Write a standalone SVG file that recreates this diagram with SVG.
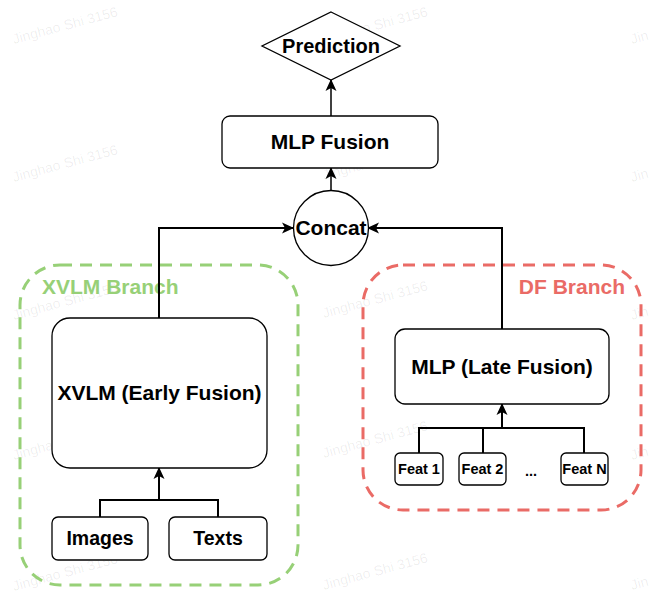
<svg xmlns="http://www.w3.org/2000/svg" width="655" height="594" viewBox="0 0 655 594">
<style>
.bg{fill:#ffffff}
.box{fill:#ffffff;stroke:#000000;stroke-width:1.3}
.lbl{font-family:"Liberation Sans",Arial,Helvetica,sans-serif;font-weight:bold;fill:#000000;text-anchor:middle}
.edge{fill:none;stroke:#000000;stroke-width:2}
.wm{font-family:"Liberation Sans",Arial,sans-serif;font-size:14px;fill:#000000;fill-opacity:0.07}
.grp-g{fill:none;stroke:#97D077;stroke-width:3;stroke-dasharray:12 8}
.grp-r{fill:none;stroke:#EA6B66;stroke-width:3;stroke-dasharray:12 8}
</style>
<defs>
<marker id="arr" markerUnits="userSpaceOnUse" markerWidth="12" markerHeight="12" viewBox="0 0 12 12" refX="11" refY="6" orient="auto">
<path d="M0,0.5 L12,6 L0,11.5 L3,6 z" fill="#000000"/>
</marker>
</defs>
<rect class="bg" x="0" y="0" width="655" height="594"/>

<g id="watermarks">
<text class="wm" transform="translate(14,44) rotate(-15)">Jinghao Shi 3156</text>
<text class="wm" transform="translate(324,44) rotate(-15)">Jinghao Shi 3156</text>
<text class="wm" transform="translate(632,44) rotate(-15)">Jin</text>
<text class="wm" transform="translate(14,182) rotate(-15)">Jinghao Shi 3156</text>
<text class="wm" transform="translate(324,180) rotate(-15)">Jinghao Shi 3156</text>
<text class="wm" transform="translate(632,182) rotate(-15)">Jin</text>
<text class="wm" transform="translate(14,320) rotate(-15)">Jinghao Shi 3156</text>
<text class="wm" transform="translate(324,318) rotate(-15)">Jinghao Shi 3156</text>
<text class="wm" transform="translate(632,320) rotate(-15)">Jin</text>
<text class="wm" transform="translate(14,460) rotate(-15)">Jinghao Shi 3156</text>
<text class="wm" transform="translate(324,458) rotate(-15)">Jinghao Shi 3156</text>
<text class="wm" transform="translate(632,460) rotate(-15)">Jin</text>
<text class="wm" transform="translate(14,591) rotate(-15)">Jinghao Shi 3156</text>
<text class="wm" transform="translate(324,590) rotate(-15)">Jinghao Shi 3156</text>
<text class="wm" transform="translate(632,590) rotate(-15)">Jin</text>
</g>

<g id="xvlm-branch">
<rect class="grp-g" x="20" y="265" width="278" height="320" rx="40" ry="40"/>
<text x="42" y="294" font-family="Liberation Sans, Arial, sans-serif" font-weight="bold" font-size="21" fill="#97D077">XVLM Branch</text>
</g>

<g id="df-branch">
<rect class="grp-r" x="363" y="265" width="278" height="245" rx="40" ry="40"/>
<text x="625" y="294" font-family="Liberation Sans, Arial, sans-serif" font-weight="bold" font-size="21" fill="#EA6B66" text-anchor="end">DF Branch</text>
</g>

<g id="connectors">
<path class="edge" style="stroke-width:1.5" d="M331,190 L331,168" marker-end="url(#arr)"/>
<path class="edge" style="stroke-width:1.5" d="M331,116 L331,80" marker-end="url(#arr)"/>
<path class="edge" d="M159,318 L159,228 L293,228" marker-end="url(#arr)"/>
<path class="edge" d="M502,329 L502,228 L368,228" marker-end="url(#arr)"/>
<path class="edge" d="M100,517 L100,500 L218,500 L218,517"/>
<path class="edge" d="M159,500 L159,468" marker-end="url(#arr)"/>
<path class="edge" d="M419,453 L419,428 L584,428 L584,453"/>
<path class="edge" d="M483,453 L483,428"/>
<path class="edge" d="M502,428 L502,404" marker-end="url(#arr)"/>
</g>

<g id="prediction">
<polygon class="box" points="331,12 400,46 331,80 262,46"/>
<text class="lbl" x="331" y="53" font-size="20">Prediction</text>
</g>

<g id="mlp-fusion">
<rect class="box" x="222" y="116" width="216" height="52" rx="8" ry="8"/>
<text class="lbl" x="330" y="149" font-size="21">MLP Fusion</text>
</g>

<g id="concat">
<circle class="box" cx="331" cy="228" r="37.5"/>
<text class="lbl" x="331" y="235" font-size="21">Concat</text>
</g>

<g id="xvlm">
<rect class="box" x="52" y="318" width="215" height="150" rx="18" ry="18"/>
<text class="lbl" x="159.5" y="400" font-size="21">XVLM (Early Fusion)</text>
</g>

<g id="images">
<rect class="box" x="52" y="517" width="96" height="43" rx="6" ry="6"/>
<text class="lbl" x="100" y="545" font-size="19.5">Images</text>
</g>

<g id="texts">
<rect class="box" x="169" y="517" width="98" height="43" rx="6" ry="6"/>
<text class="lbl" x="218" y="545" font-size="19.5">Texts</text>
</g>

<g id="mlp-late">
<rect class="box" x="395" y="329" width="214" height="75" rx="10" ry="10"/>
<text class="lbl" x="502" y="374" font-size="21">MLP (Late Fusion)</text>
</g>

<g id="feat1">
<rect class="box" x="395" y="453" width="48" height="32" rx="5" ry="5"/>
<text class="lbl" x="419" y="474" font-size="14.5">Feat 1</text>
</g>

<g id="feat2">
<rect class="box" x="459" y="453" width="47" height="32" rx="5" ry="5"/>
<text class="lbl" x="482.5" y="474" font-size="14.5">Feat 2</text>
</g>

<g id="ellipsis">
<text class="lbl" x="531" y="476" font-size="14.5">...</text>
</g>

<g id="featN">
<rect class="box" x="561" y="453" width="47" height="32" rx="5" ry="5"/>
<text class="lbl" x="584.5" y="474" font-size="14.5">Feat N</text>
</g>
</svg>
